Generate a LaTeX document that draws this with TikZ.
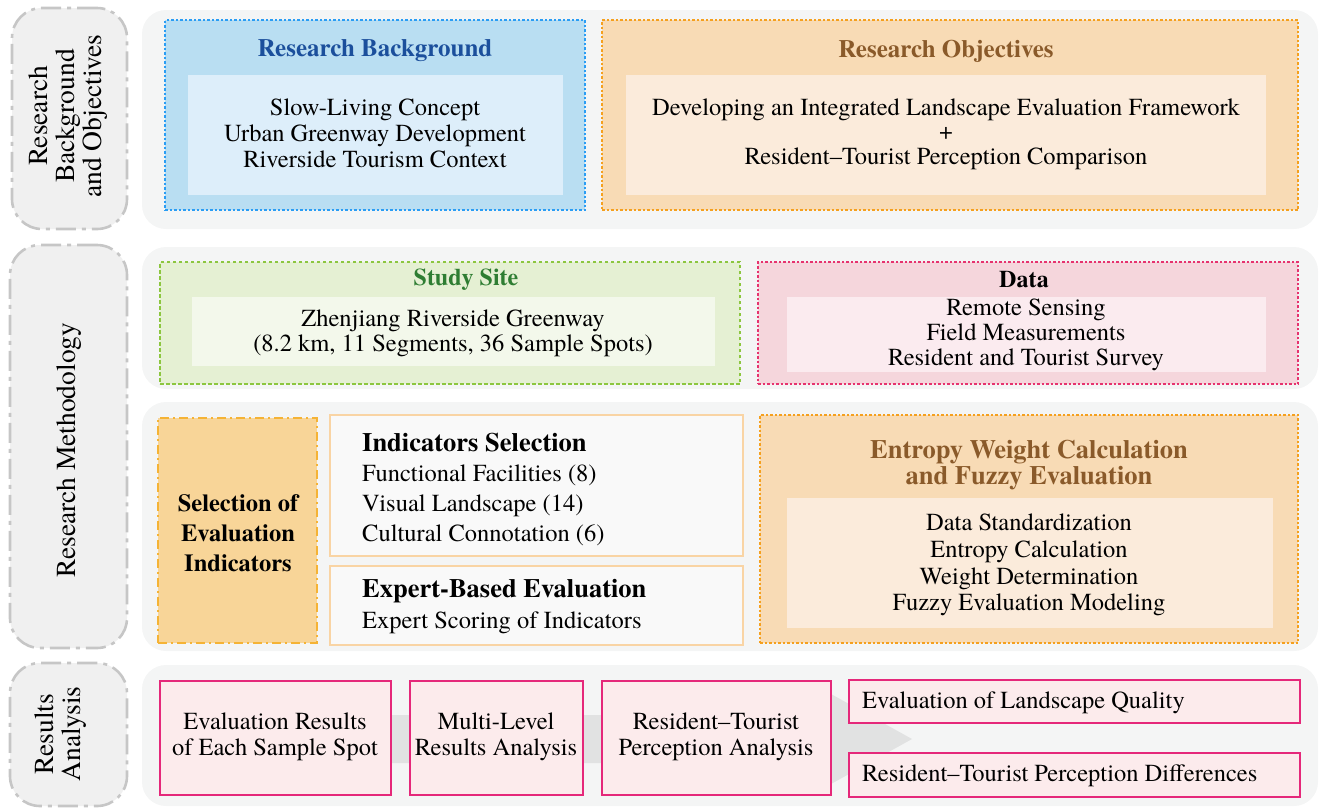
\documentclass[tikz,border=0pt]{standalone}
\usepackage{fontspec}
\setmainfont{TeX Gyre Termes}
\usetikzlibrary{fit}
\definecolor{panelgray}{HTML}{F4F5F5}
\definecolor{tabfill}{HTML}{F0F0F0}
\definecolor{tabline}{HTML}{C6C6C6}
\definecolor{bgOuter}{HTML}{B9DEF2}
\definecolor{bgLine}{HTML}{2A9DF4}
\definecolor{bgTitle}{HTML}{1B4F9C}
\definecolor{bgInner}{HTML}{DDEEFA}
\definecolor{objOuter}{HTML}{F8DBB5}
\definecolor{objLine}{HTML}{F5A01E}
\definecolor{objTitle}{HTML}{8A5A2A}
\definecolor{objInner}{HTML}{FBEBDB}
\definecolor{siteOuter}{HTML}{E5F0D3}
\definecolor{siteLine}{HTML}{8CC63F}
\definecolor{siteTitle}{HTML}{2E7D32}
\definecolor{siteInner}{HTML}{F3F8EB}
\definecolor{dataOuter}{HTML}{F5D6DC}
\definecolor{dataLine}{HTML}{E6336E}
\definecolor{dataInner}{HTML}{FBEBEF}
\definecolor{selFill}{HTML}{F8D598}
\definecolor{selLine}{HTML}{F5B335}
\definecolor{indFill}{HTML}{F9F9F9}
\definecolor{indLine}{HTML}{F9D4A4}
\definecolor{resFill}{HTML}{FCEBEC}
\definecolor{resLine}{HTML}{E5287A}
\definecolor{flowgray}{HTML}{E1E2E2}
\begin{document}
\begin{tikzpicture}[x=1pt,y=-1pt,
  area/.style={inner sep=0pt, outer sep=0pt},
  panel/.style={area, fill=panelgray, rounded corners=24pt},
  tab/.style={area, fill=tabfill, draw=tabline, line width=2.6pt,
    dash pattern=on 20pt off 6pt on 4pt off 6pt, rounded corners=30pt},
  dotbox/.style={area, line width=1.8pt, dash pattern=on 2.5pt off 2pt},
  body/.style={font=\fontsize{24.5}{26}\selectfont, align=center, inner sep=0pt},
  heading/.style={font=\bfseries\fontsize{25}{26}\selectfont, align=center, inner sep=0pt},
  tablabel/.style={font=\fontsize{27.5}{27}\selectfont, rotate=90, align=center, inner sep=0pt},
  resbox/.style={area, fill=resFill, draw=resLine, line width=2.2pt},
  indbox/.style={area, fill=indFill, draw=indLine, line width=2pt},
]
\useasboundingbox (0,0) rectangle (1320,809);

% ---- side tabs ----
\node[tab, fit={(12,8) (127,229)}] (tabA) {};
\node[tab, fit={(10,245) (127,648)}] (tabB) {};
\node[tab, fit={(10,663) (127,806)}] (tabC) {};
\node[tablabel] (tabAtxt) at (68,116) {Research\\Background\\and Objectives};
\node[tablabel] (tabBtxt) at (69,450) {Research Methodology};
\node[tablabel] (tabCtxt) at (61,734) {Results\\Analysis};

% ---- background panels ----
\node[panel, fit={(142,10) (1318,229)}] (panA) {};
\node[panel, fit={(142,247) (1318,389)}] (panB) {};
\node[panel, fit={(142,402) (1318,651)}] (panC) {};
\node[panel, fit={(142,665) (1318,806)}] (panD) {};

% ---- research background and objectives ----
\node[dotbox, fill=bgOuter, draw=bgLine, fit={(165,20) (585,210)}] (bg) {};
\node[area, fill=bgInner, fit={(188,75) (563,195)}] (bgIn) {};
\node[heading, text=bgTitle] (bgT) at (375,51) {Research Background};
\node[body] (bgTxt) at (375,133) {Slow-Living Concept\\Urban Greenway Development\\Riverside Tourism Context};

\node[dotbox, fill=objOuter, draw=objLine, fit={(602,20) (1298,210)}] (obj) {};
\node[area, fill=objInner, fit={(626,75) (1266,195)}] (objIn) {};
\node[heading, text=objTitle] (objT) at (946,51) {Research Objectives};
\node[body, font=\fontsize{24.5}{24.5}\selectfont] (objTxt) at (946,134) {Developing an Integrated Landscape Evaluation Framework\\+\\Resident–Tourist Perception Comparison};

% ---- study site and data ----
\node[dotbox, fill=siteOuter, draw=siteLine, dash pattern=on 3.5pt off 2.5pt, fit={(160,262) (740,384)}] (site) {};
\node[area, fill=siteInner, fit={(192,297) (715,366)}] (siteIn) {};
\node[heading, text=siteTitle, font=\bfseries\fontsize{24}{26}\selectfont] (siteT) at (466,280) {Study Site};
\node[body, font=\fontsize{24.5}{25}\selectfont] (siteTxt) at (453,333) {Zhenjiang Riverside Greenway\\(8.2 km, 11 Segments, 36 Sample Spots)};

\node[dotbox, fill=dataOuter, draw=dataLine, fit={(758,262) (1298,384)}] (data) {};
\node[area, fill=dataInner, fit={(787,297) (1266,372)}] (dataIn) {};
\node[heading, font=\bfseries\fontsize{24}{26}\selectfont] (dataT) at (1024,280) {Data};
\node[body, font=\fontsize{24.5}{25}\selectfont] (dataTxt) at (1026,335) {Remote Sensing\\Field Measurements\\Resident and Tourist Survey};

% ---- indicators and evaluation ----
\node[area, fill=selFill, draw=selLine, line width=2pt,
  dash pattern=on 9pt off 4pt on 2pt off 4pt, fit={(158,418) (317,643)}] (sel) {};
\node[heading, font=\bfseries\fontsize{24.5}{30}\selectfont] (selTxt) at (238,533) {Selection of\\Evaluation\\Indicators};

\node[indbox, fit={(330,415) (743,556)}] (ind) {};
\node[body, align=left, anchor=west, font=\fontsize{24.5}{30}\selectfont] (indTxt) at (362,489)
  {{\bfseries\fontsize{26.5}{30}\selectfont Indicators Selection}\\Functional Facilities (8)\\Visual Landscape (14)\\Cultural Connotation (6)};

\node[indbox, fit={(330,566) (743,645)}] (exp) {};
\node[body, align=left, anchor=west, font=\fontsize{24.5}{31}\selectfont] (expTxt) at (362,607)
  {{\bfseries\fontsize{26.5}{31}\selectfont Expert-Based Evaluation}\\Expert Scoring of Indicators};

\node[dotbox, fill=objOuter, draw=objLine, fit={(760,415) (1298,643)}] (ent) {};
\node[area, fill=objInner, fit={(787,498) (1273,628)}] (entIn) {};
\node[heading, text=objTitle, font=\bfseries\fontsize{26.5}{26}\selectfont] (entT) at (1029,465) {Entropy Weight Calculation\\and Fuzzy Evaluation};
\node[body, font=\fontsize{24.5}{26.7}\selectfont] (entTxt) at (1029,565) {Data Standardization\\Entropy Calculation\\Weight Determination\\Fuzzy Evaluation Modeling};

% ---- results analysis: flow arrow behind the result boxes ----
\fill[flowgray] (165,715) -- (831,715) -- (831,694) -- (912,739) -- (831,784) -- (831,763) -- (165,763) -- cycle;

\node[resbox, fit={(160,681) (391,795)}] (resA) {};
\node[body] (resAtxt) at (275,737) {Evaluation Results\\of Each Sample Spot};
\node[resbox, fit={(410,681) (583,795)}] (resB) {};
\node[body] (resBtxt) at (496,737) {Multi-Level\\Results Analysis};
\node[resbox, fit={(602,681) (831,795)}] (resC) {};
\node[body] (resCtxt) at (716,737) {Resident–Tourist\\Perception Analysis};
\node[resbox, fit={(849,680) (1300,723)}] (resD) {};
\node[body, anchor=west] (resDtxt) at (862,703) {Evaluation of Landscape Quality};
\node[resbox, fit={(849,753) (1300,797)}] (resE) {};
\node[body, anchor=west] (resEtxt) at (862,776) {Resident–Tourist Perception Differences};
\end{tikzpicture}
\end{document}
